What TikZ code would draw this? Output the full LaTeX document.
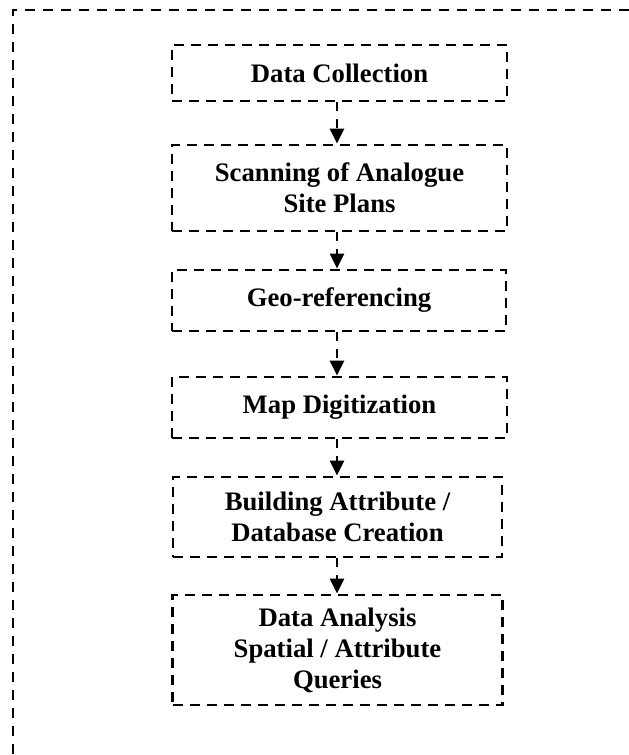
\documentclass[tikz,border=0pt]{standalone}
\usepackage{fontspec}
\setmainfont{Liberation Serif}
\usetikzlibrary{arrows.meta}
\begin{document}
\begin{tikzpicture}[x=1pt,y=-1pt,
  stepbox/.style={draw=black, line width=2.8pt, dash pattern=on 10pt off 7pt,
    rectangle, align=center, inner sep=0pt,
    font=\fontsize{26.7}{31}\selectfont\bfseries},
  frame/.style={draw=black, line width=2.8pt, dash pattern=on 10pt off 8pt},
  flow/.style={draw=black, line width=2.8pt, dash pattern=on 9pt off 8pt,
    -{Triangle[width=14pt,length=15pt]}}]
\useasboundingbox (0,0) rectangle (629,755);
\draw[frame] (629,10) -- (13,10) -- (13,755);
\node[stepbox, minimum width=335pt, minimum height=56pt] (b1) at (339.5,73) {Data Collection};
\node[stepbox, minimum width=335pt, minimum height=86pt] (b2) at (339.5,188) {Scanning of Analogue\\Site Plans};
\node[stepbox, minimum width=334pt, minimum height=61pt] (b3) at (339,300.5) {Geo-referencing};
\node[stepbox, minimum width=335pt, minimum height=61pt] (b4) at (339.5,407.5) {Map Digitization};
\node[stepbox, minimum width=329pt, minimum height=80pt] (b5) at (337.5,517) {Building Attribute /\\Database Creation};
\node[stepbox, minimum width=330pt, minimum height=110pt] (b6) at (337.5,650) {Data Analysis\\Spatial / Attribute\\Queries};
\draw[flow] (b1.south -| 337,0) -- (b2.north -| 337,0);
\draw[flow] (b2.south -| 337,0) -- (b3.north -| 337,0);
\draw[flow] (b3.south -| 337,0) -- (b4.north -| 337,0);
\draw[flow] (b4.south -| 337,0) -- (b5.north -| 337,0);
\draw[flow] (b5.south -| 337,0) -- (b6.north -| 337,0);
\end{tikzpicture}
\end{document}
